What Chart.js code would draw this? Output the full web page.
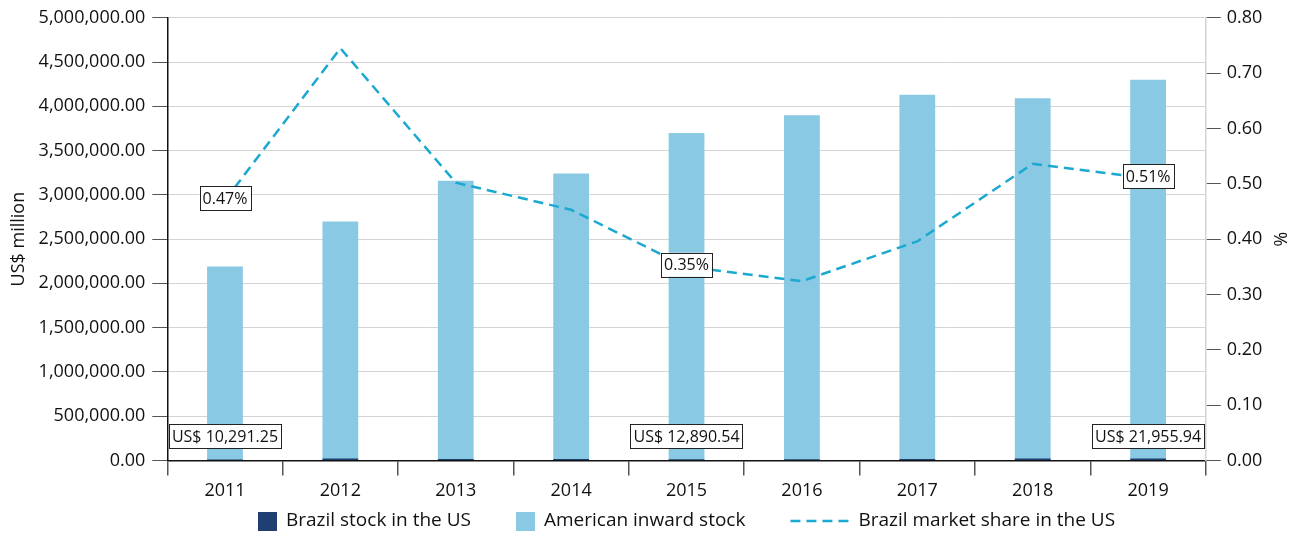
<!DOCTYPE html>
<html>
<head>
<meta charset="utf-8">
<script src="https://cdn.jsdelivr.net/npm/chart.js@4"></script>
<style>
  html, body { margin: 0; padding: 0; background: #fff; }
  #wrap { width: 1301px; height: 533px; }
</style>
</head>
<body>
<div id="wrap"><canvas id="chart" width="1301" height="533"></canvas></div>
<script>
const years = ['2011', '2012', '2013', '2014', '2015', '2016', '2017', '2018', '2019'];
const brazilStock = [10291.25, 20100, 15860, 14680, 12890.54, 12640, 16350, 21920, 21955.94];
const americanStock = [2190000, 2700000, 3160000, 3240000, 3700000, 3900000, 4130000, 4090000, 4300000];
const marketShare = [0.47, 0.745, 0.502, 0.453, 0.35, 0.324, 0.396, 0.536, 0.51];

// which points get a boxed label
const shareLabelIdx = [0, 4, 8];
const stockLabelIdx = [0, 4, 8];

const FONT = '"Open Sans", "Noto Sans", sans-serif';
const DARK = '#1f3f73';
const LIGHT = '#89c9e4';
const LINE = '#1ba8d1';

function fmt2(v) {
  return v.toLocaleString('en-US', { minimumFractionDigits: 2, maximumFractionDigits: 2 });
}

function drawBoxLabel(ctx, text, x, y) {
  ctx.font = '16px ' + FONT;
  const w = ctx.measureText(text).width + 6;
  const h = 24;
  ctx.fillStyle = '#fff';
  ctx.fillRect(x - w / 2, y - h / 2, w, h);
  ctx.strokeStyle = '#222';
  ctx.lineWidth = 1;
  ctx.setLineDash([]);
  ctx.strokeRect(Math.round(x - w / 2) + 0.5, Math.round(y - h / 2) + 0.5, Math.round(w), h);
  ctx.fillStyle = '#111';
  ctx.textAlign = 'center';
  ctx.textBaseline = 'middle';
  ctx.fillText(text, x, y + 1);
}

const boxLabels = {
  id: 'boxLabels',
  afterDatasetsDraw(chart) {
    const ctx = chart.ctx;
    const x = chart.scales.x, y = chart.scales.y, y1 = chart.scales.y1;
    ctx.save();
    shareLabelIdx.forEach(i => {
      drawBoxLabel(ctx, marketShare[i].toFixed(2) + '%', x.getPixelForValue(i), y1.getPixelForValue(marketShare[i]) - 2);
    });
    stockLabelIdx.forEach(i => {
      drawBoxLabel(ctx, 'US$ ' + fmt2(brazilStock[i]), x.getPixelForValue(i), y.getPixelForValue(0) - 24);
    });
    ctx.restore();
  }
};

// legend drawn by hand so the line entry can be wider than the boxes
const bottomLegend = {
  id: 'bottomLegend',
  afterDraw(chart) {
    const ctx = chart.ctx;
    const area = chart.chartArea;
    const items = chart.data.datasets.map(ds => ({ text: ds.label, ds }));
    ctx.save();
    ctx.font = '19px ' + FONT;
    const gap = 45;
    const widths = items.map(it => (it.ds.type === 'line' ? 58 + 10 : 19 + 9) + ctx.measureText(it.text).width);
    const total = widths.reduce((a, b) => a + b, 0) + gap * (items.length - 1);
    let cx = (area.left + area.right) / 2 - total / 2;
    const cy = 521;
    items.forEach((it, i) => {
      let sw, pad;
      if (it.ds.type === 'line') {
        sw = 58; pad = 10;
        ctx.strokeStyle = it.ds.borderColor;
        ctx.lineWidth = it.ds.borderWidth;
        ctx.setLineDash(it.ds.borderDash);
        ctx.beginPath();
        ctx.moveTo(cx, cy);
        ctx.lineTo(cx + sw, cy);
        ctx.stroke();
        ctx.setLineDash([]);
      } else {
        sw = 19; pad = 9;
        ctx.fillStyle = it.ds.backgroundColor;
        ctx.fillRect(cx, cy - 9, sw, 19);
      }
      ctx.fillStyle = '#111';
      ctx.textAlign = 'left';
      ctx.textBaseline = 'middle';
      ctx.fillText(it.text, cx + sw + pad, cy);
      cx += widths[i] + gap;
    });
    ctx.restore();
  }
};

new Chart(document.getElementById('chart'), {
  type: 'bar',
  data: {
    labels: years,
    datasets: [
      {
        label: 'Brazil stock in the US',
        data: brazilStock,
        backgroundColor: DARK,
        yAxisID: 'y',
        barPercentage: 0.31,
        categoryPercentage: 1,
        order: 1
      },
      {
        label: 'American inward stock',
        data: americanStock,
        backgroundColor: LIGHT,
        yAxisID: 'y',
        barPercentage: 0.31,
        categoryPercentage: 1,
        order: 2
      },
      {
        type: 'line',
        label: 'Brazil market share in the US',
        data: marketShare,
        borderColor: LINE,
        backgroundColor: LINE,
        borderWidth: 2.5,
        borderDash: [10, 6],
        pointRadius: 0,
        tension: 0,
        yAxisID: 'y1',
        order: 0
      }
    ]
  },
  options: {
    responsive: false,
    animation: false,
    layout: { padding: { left: 8, right: 5, top: 0, bottom: 26 } },
    plugins: {
      legend: { display: false },
      tooltip: { enabled: false }
    },
    scales: {
      x: {
        stacked: true,
        grid: { drawOnChartArea: false, offset: true, tickLength: 15, color: '#555', lineWidth: 1.5 },
        border: { color: '#111', width: 1.5 },
        ticks: { color: '#111', font: { family: FONT, size: 18 }, padding: 5 }
      },
      y: {
        position: 'left',
        min: 0,
        max: 5000000,
        ticks: {
          stepSize: 500000,
          color: '#111',
          font: { family: FONT, size: 18 },
          padding: 7,
          callback: v => fmt2(v)
        },
        grid: { color: '#d4d4d4', tickColor: '#555', tickLength: 15, lineWidth: 1 },
        border: { color: '#111', width: 1.5 },
        title: { display: true, text: 'US$ million', color: '#111', font: { family: FONT, size: 18 }, padding: { top: 0, bottom: 2 } }
      },
      y1: {
        position: 'right',
        min: 0,
        max: 0.8,
        ticks: {
          stepSize: 0.1,
          color: '#111',
          font: { family: FONT, size: 18 },
          padding: 6,
          callback: v => v.toFixed(2)
        },
        grid: { drawOnChartArea: false, color: '#555', tickLength: 15 },
        border: { color: '#d4d4d4', width: 1.5 },
        title: { display: true, text: '%', color: '#111', font: { family: FONT, size: 18 }, padding: { top: 6, bottom: 0 } }
      }
    }
  },
  plugins: [boxLabels, bottomLegend]
});
</script>
</body>
</html>
